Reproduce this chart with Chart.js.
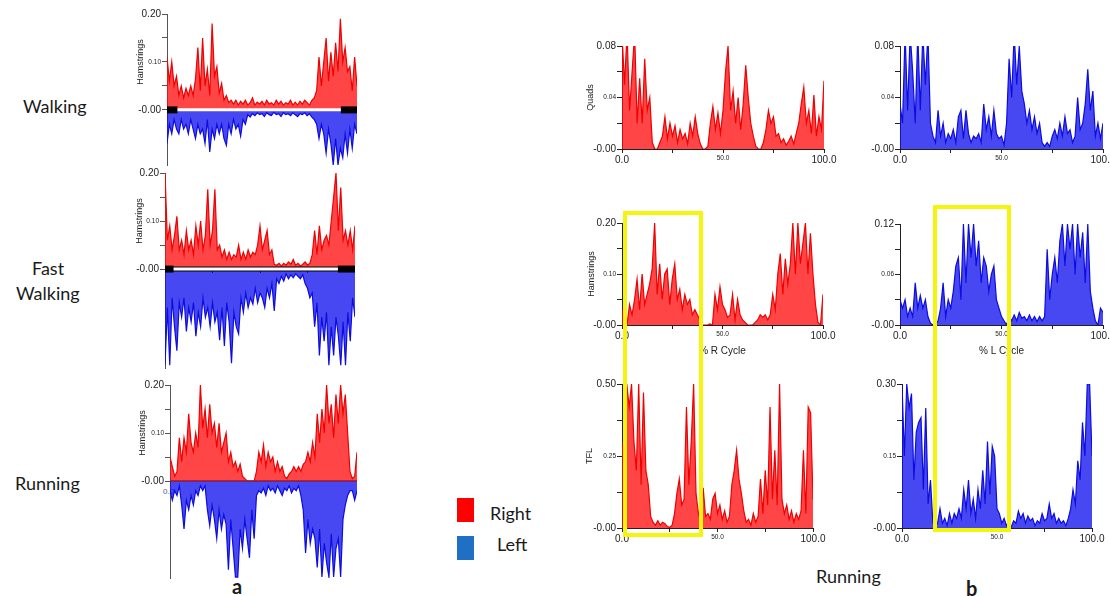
<!DOCTYPE html>
<html>
<head>
<meta charset="utf-8">
<title>Hamstrings / Quads / TFL EMG, right vs left</title>
<script src="https://cdn.jsdelivr.net/npm/chart.js@4.4.1/dist/chart.umd.min.js"></script>
<style>
  html, body { margin: 0; padding: 0; background: #fff; }
  body { position: relative; width: 1110px; height: 596px; overflow: hidden; font-family: Lato, "Open Sans", sans-serif; color: #1a1a1a; }
  canvas { position: absolute; }
  .txt { position: absolute; font-size: 18px; line-height: 18px; white-space: nowrap; }
  .key { position: absolute; width: 17px; height: 24px; }
  .win { position: absolute; border: 4px solid #f4f40c; box-sizing: border-box; }
  .tag { position: absolute; font-size: 20px; line-height: 20px; font-weight: bold; }
  .zero { position: absolute; font: 8px "Liberation Sans", sans-serif; color: #4a5aa8; }
</style>
</head>
<body>
<div class="txt" style="left:23px;top:97px">Walking</div>
<div class="txt" style="left:32px;top:259px">Fast</div>
<div class="txt" style="left:16px;top:284px">Walking</div>
<div class="txt" style="left:15px;top:474px">Running</div>

<div class="key" style="left:457px;top:498px;background:#ff0000"></div>
<div class="txt" style="left:490px;top:504px">Right</div>
<div class="key" style="left:457px;top:536px;background:#1f6fc5"></div>
<div class="txt" style="left:497px;top:535px">Left</div>

<div class="txt" style="left:816px;top:567px">Running</div>
<div class="tag" style="left:232px;top:576px">a</div>
<div class="tag" style="left:966px;top:578px">b</div>
<div class="zero" style="left:163px;top:487px">0.0</div>

<script>
// ── Data: EMG envelopes, 81 samples over 0–100 % of the cycle ──

// panel a, Hamstrings (right positive, left plotted negative)
const walkRight = [0.11, 0.06, 0.10, 0.05, 0.07, 0.03, 0.05, 0.025, 0.045, 0.03,
    0.05, 0.03, 0.065, 0.13, 0.04, 0.15, 0.05, 0.085, 0.03, 0.18,
    0.07, 0.09, 0.035, 0.055, 0.02, 0.03, 0.015, 0.02, 0.012, 0.02,
    0.01, 0.018, 0.012, 0.02, 0.01, 0.015, 0.025, 0.01, 0.016, 0.012,
    0.018, 0.01, 0.02, 0.012, 0.015, 0.01, 0.02, 0.012, 0.018, 0.01,
    0.015, 0.012, 0.02, 0.01, 0.016, 0.01, 0.018, 0.012, 0.02, 0.015,
    0.01, 0.02, 0.025, 0.04, 0.11, 0.05, 0.10, 0.15, 0.06, 0.12,
    0.07, 0.14, 0.08, 0.19, 0.10, 0.13, 0.08, 0.09, 0.04, 0.11, 0.05];
const walkLeft = [-0.07, -0.03, -0.05, -0.02, -0.04, -0.05, -0.02, -0.04, -0.03, -0.05,
    -0.02, -0.04, -0.06, -0.03, -0.05, -0.04, -0.07, -0.02, -0.088, -0.04,
    -0.06, -0.03, -0.05, -0.03, -0.06, -0.074, -0.03, -0.05, -0.02, -0.04,
    -0.03, -0.055, -0.02, -0.03, -0.01, -0.015, -0.008, -0.012, -0.006, -0.01,
    -0.008, -0.014, -0.006, -0.01, -0.012, -0.005, -0.01, -0.008, -0.014, -0.006,
    -0.01, -0.008, -0.012, -0.006, -0.01, -0.014, -0.008, -0.01, -0.006, -0.012,
    -0.008, -0.015, -0.02, -0.03, -0.06, -0.03, -0.05, -0.09, -0.04, -0.07,
    -0.115, -0.06, -0.115, -0.08, -0.10, -0.05, -0.09, -0.04, -0.08, -0.03, -0.05];

const fastRight = [0.20, 0.06, 0.09, 0.04, 0.07, 0.11, 0.04, 0.06, 0.03, 0.08,
    0.04, 0.06, 0.03, 0.09, 0.05, 0.10, 0.04, 0.07, 0.166, 0.05,
    0.08, 0.166, 0.04, 0.05, 0.025, 0.04, 0.02, 0.035, 0.02, 0.03,
    0.025, 0.05, 0.02, 0.035, 0.02, 0.04, 0.025, 0.035, 0.03, 0.05,
    0.09, 0.04, 0.06, 0.08, 0.03, 0.04, 0.01, 0.008, 0.012, 0.006,
    0.012, 0.008, 0.015, 0.01, 0.02, 0.008, 0.012, 0.006, 0.01, 0.015,
    0.008, 0.012, 0.03, 0.08, 0.03, 0.09, 0.04, 0.06, 0.07, 0.05,
    0.10, 0.15, 0.20, 0.08, 0.17, 0.06, 0.08, 0.05, 0.08, 0.04, 0.09];
const fastLeft = [-0.20, -0.08, -0.20, -0.06, -0.12, -0.17, -0.07, -0.10, -0.06, -0.13,
    -0.08, -0.11, -0.07, -0.14, -0.09, -0.12, -0.06, -0.10, -0.08, -0.12,
    -0.07, -0.11, -0.09, -0.148, -0.08, -0.16, -0.07, -0.11, -0.196, -0.09,
    -0.12, -0.135, -0.06, -0.09, -0.05, -0.08, -0.06, -0.073, -0.04, -0.07,
    -0.05, -0.06, -0.08, -0.04, -0.06, -0.03, -0.087, -0.02, -0.03, -0.015,
    -0.025, -0.01, -0.02, -0.012, -0.018, -0.01, -0.015, -0.02, -0.012, -0.03,
    -0.04, -0.06, -0.05, -0.12, -0.07, -0.18, -0.10, -0.15, -0.09, -0.20,
    -0.12, -0.18, -0.10, -0.14, -0.20, -0.11, -0.20, -0.09, -0.15, -0.06, -0.10];

const runRight = [0.05, 0.03, 0.01, 0.02, 0.09, 0.04, 0.09, 0.06, 0.14, 0.08,
    0.06, 0.10, 0.07, 0.20, 0.11, 0.15, 0.09, 0.16, 0.10, 0.12,
    0.07, 0.12, 0.06, 0.08, 0.10, 0.04, 0.06, 0.03, 0.04, 0.02,
    0.035, 0.01, 0.005, 0, 0, 0, 0, 0.02, 0.06, 0.04,
    0.075, 0.03, 0.06, 0.04, 0.05, 0.02, 0.04, 0.02, 0.03, 0.01,
    0.005, 0.015, 0.02, 0.03, 0.02, 0.03, 0.02, 0.035, 0.04, 0.06,
    0.04, 0.08, 0.05, 0.14, 0.08, 0.15, 0.10, 0.20, 0.12, 0.16,
    0.09, 0.18, 0.12, 0.20, 0.14, 0.18, 0.10, 0.02, 0.005, 0.01, 0.06];
const runLeft = [-0.02, -0.04, -0.02, -0.03, -0.01, -0.05, -0.10, -0.04, -0.06, -0.03,
    -0.05, -0.02, -0.03, -0.01, -0.02, -0.01, -0.06, -0.093, -0.05, -0.08,
    -0.12, -0.06, -0.10, -0.07, -0.09, -0.185, -0.08, -0.14, -0.20, -0.20,
    -0.10, -0.14, -0.08, -0.12, -0.16, -0.06, -0.12, -0.03, -0.02, -0.025,
    -0.015, -0.03, -0.01, -0.02, -0.015, -0.025, -0.01, -0.02, -0.03, -0.015,
    -0.02, -0.01, -0.025, -0.015, -0.02, -0.01, -0.03, -0.06, -0.15, -0.08,
    -0.13, -0.10, -0.12, -0.18, -0.10, -0.20, -0.13, -0.17, -0.20, -0.11,
    -0.20, -0.14, -0.12, -0.20, -0.08, -0.05, -0.03, -0.02, -0.02, -0.04, -0.02];

// panel b, running: right (red) and left (blue) muscles
const quadsRight = [0.09, 0.05, 0.09, 0.03, 0.06, 0.09, 0.02, 0.055, 0.02, 0.07,
    0.03, 0.04, 0.005, 0, 0, 0.005, 0.01, 0.025, 0.008, 0.02,
    0.01, 0.018, 0.005, 0.015, 0.008, 0.012, 0.004, 0.02, 0.01, 0.025,
    0.012, 0.004, 0, 0, 0.002, 0.02, 0.033, 0.015, 0.028, 0.012,
    0.03, 0.06, 0.08, 0.03, 0.045, 0.02, 0.04, 0.015, 0.035, 0.065,
    0.04, 0.02, 0.01, 0.002, 0, 0, 0.005, 0.015, 0.03, 0.02,
    0.025, 0.01, 0.012, 0.005, 0.008, 0.003, 0.006, 0.01, 0.004, 0.012,
    0.02, 0.035, 0.048, 0.02, 0.03, 0.012, 0.042, 0.01, 0.025, 0.015, 0.053];
const quadsLeft = [0.035, 0.02, 0.09, 0.03, 0.09, 0.06, 0.02, 0.09, 0.03, 0.09,
    0.05, 0.09, 0.02, 0.01, 0.005, 0.03, 0.01, 0.02, 0.005, 0.012,
    0.008, 0.015, 0.005, 0.025, 0.03, 0.008, 0.03, 0.012, 0.005, 0.01,
    0.008, 0.012, 0.005, 0.035, 0.015, 0.025, 0.01, 0.03, 0.012, 0.008,
    0.01, 0.003, 0.02, 0.07, 0.04, 0.09, 0.05, 0.08, 0.045, 0.035,
    0.02, 0.03, 0.015, 0.025, 0.012, 0.02, 0.005, 0.002, 0.005, 0.002,
    0.01, 0.015, 0.008, 0.02, 0.01, 0.025, 0.012, 0.015, 0.005, 0.01,
    0.04, 0.015, 0.02, 0.035, 0.062, 0.03, 0.045, 0.01, 0.02, 0.008, 0.02];

const hamRight = [0.03, 0.005, 0, 0.04, 0.02, 0.05, 0.09, 0.03, 0.10, 0.04,
    0.06, 0.08, 0.11, 0.20, 0.06, 0.12, 0.05, 0.10, 0.11, 0.04,
    0.09, 0.12, 0.05, 0.07, 0.03, 0.06, 0.04, 0.05, 0.02, 0.03,
    0.02, 0.01, 0, 0, 0, 0.002, 0, 0.06, 0.03, 0.075,
    0.04, 0.03, 0.015, 0.02, 0.06, 0.01, 0.05, 0.02, 0.01, 0.005,
    0, 0, 0, 0.005, 0.01, 0.02, 0.015, 0.02, 0.01, 0.02,
    0.06, 0.03, 0.10, 0.14, 0.06, 0.13, 0.08, 0.12, 0.20, 0.10,
    0.20, 0.12, 0.16, 0.20, 0.10, 0.18, 0.10, 0.04, 0.005, 0, 0.06];
const hamLeft = [0.03, 0.02, 0.03, 0.01, 0.02, 0.01, 0.05, 0.02, 0.035, 0.02,
    0.03, 0.01, 0.002, 0, 0, 0.005, 0.02, 0.05, 0.01, 0.03,
    0.02, 0.04, 0.07, 0.08, 0.03, 0.12, 0.05, 0.12, 0.08, 0.12,
    0.07, 0.10, 0.05, 0.08, 0.07, 0.04, 0.06, 0.07, 0.03, 0.02,
    0.01, 0.005, 0, 0.01, 0.005, 0.012, 0.005, 0.015, 0.008, 0.01,
    0.005, 0.012, 0.005, 0.01, 0.004, 0.01, 0.005, 0.01, 0.09, 0.03,
    0.06, 0.08, 0.05, 0.10, 0.12, 0.07, 0.12, 0.09, 0.12, 0.06,
    0.12, 0.08, 0.11, 0.05, 0.12, 0.04, 0.02, 0.005, 0, 0.02, 0.015];

const tflRight = [0.30, 0.10, 0.50, 0.42, 0.50, 0.30, 0.20, 0.50, 0.15, 0.47,
    0.20, 0.15, 0.04, 0.02, 0.01, 0.025, 0.01, 0.02, 0.015, 0.005,
    0.002, 0.01, 0.05, 0.12, 0.17, 0.08, 0.10, 0.42, 0.15, 0.30,
    0.50, 0.12, 0.05, 0.02, 0.14, 0.04, 0.05, 0.03, 0.10, 0.12,
    0.05, 0.08, 0.03, 0.06, 0.02, 0.04, 0.15, 0.20, 0.27, 0.17,
    0.12, 0.06, 0.02, 0.03, 0.01, 0.05, 0.02, 0.04, 0.17, 0.05,
    0.20, 0.08, 0.42, 0.10, 0.27, 0.08, 0.50, 0.10, 0.05, 0.08,
    0.03, 0.06, 0.02, 0.05, 0.03, 0.06, 0.27, 0.05, 0.42, 0.40, 0.10];
const tflLeft = [0.30, 0.15, 0.30, 0.25, 0.28, 0.10, 0.20, 0.22, 0.23, 0.08,
    0.25, 0.05, 0.10, 0.01, 0.005, 0.01, 0.04, 0.01, 0.02, 0.005,
    0.03, 0.01, 0.03, 0.02, 0.04, 0.02, 0.08, 0.04, 0.10, 0.03,
    0.06, 0.02, 0.08, 0.04, 0.12, 0.05, 0.18, 0.07, 0.17, 0.15,
    0.04, 0.03, 0.01, 0.02, 0.005, 0.01, 0.002, 0.015, 0.01, 0.035,
    0.02, 0.03, 0.01, 0.025, 0.015, 0.02, 0.005, 0.015, 0.01, 0.03,
    0.015, 0.02, 0.05, 0.02, 0.03, 0.01, 0.02, 0.01, 0.015, 0.005,
    0.02, 0.04, 0.08, 0.05, 0.14, 0.10, 0.22, 0.15, 0.30, 0.30, 0.15];

// ── Ticks and labels ──
const hamTicks = [0, 0.05, 0.10, 0.15, 0.20];
const hamTickLabels = ['-0.00', '', '0.10', '', '0.20'];
const quadsTicks = [0, 0.02, 0.04, 0.06, 0.08];
const quadsTickLabels = ['-0.00', '', '0.04', '', '0.08'];
const hamLTicks = [0, 0.03, 0.06, 0.09, 0.12];
const hamLTickLabels = ['-0.00', '', '0.06', '', '0.12'];
const tflRTicks = [0, 0.125, 0.25, 0.375, 0.50];
const tflRTickLabels = ['-0.00', '', '0.25', '', '0.50'];
const tflLTicks = [0, 0.075, 0.15, 0.225, 0.30];
const tflLTickLabels = ['-0.00', '', '0.15', '', '0.30'];
const cycleTicks = [0, 25, 50, 75, 100];
const cycleLabels = ['0.0', '', '50.0', '', '100.0'];
const zeroMarks = [25, 50, 75];

// stance markers on the zero line (% cycle) and the highlighted windows
const walkBars = [[0, 5.5], [91.5, 100]];
const fastBars = [[0, 4.5], [91, 100]];
const rWindow = [0.5, 40.3];
const lWindow = [16.3, 54.7];

// ── Styling ──
const RED = '#f00000';
const RED_FILL = 'rgba(255, 10, 10, 0.76)';
const BLUE = '#0c0ce0';
const BLUE_FILL = 'rgba(15, 15, 238, 0.76)';
const INK = '#222';
const FONT = 'Liberation Sans';
const Y_W = 50;
const PAD_T = 10;
const PAD_R = 22;

// ── Title drawn beside the y axis, centred on a chosen value ──
const sideTitle = {
    id: 'sideTitle',
    afterDraw(chart, args, opts) {
        if (!opts.text) return;
        const { ctx, chartArea, scales } = chart;
        ctx.save();
        ctx.translate(chartArea.left - opts.offset, scales.y.getPixelForValue(opts.at));
        ctx.rotate(-Math.PI / 2);
        ctx.font = `9px "${FONT}"`;
        ctx.fillStyle = INK;
        ctx.textAlign = 'center';
        ctx.textBaseline = 'middle';
        ctx.fillText(opts.text, 0, 0);
        ctx.restore();
    },
};
Chart.register(sideTitle);

// ── Helpers ──
const toPoints = (vals) => vals.map((v, i) => ({ x: (i * 100) / (vals.length - 1), y: v }));
const tickFont = (ctx) => ({ family: FONT, size: ctx.index === 2 ? 6.5 : 10 });

function trace(vals, color, fill) {
    return { data: toPoints(vals), borderColor: color, backgroundColor: fill, borderWidth: 1.2, fill: 'origin', pointRadius: 0, tension: 0 };
}

function rule(from, to, color, width) {
    return { data: [{ x: from, y: 0 }, { x: to, y: 0 }], borderColor: color, borderWidth: width, borderCapStyle: 'butt', fill: false, pointRadius: 0 };
}

function yAxis(min, max, ticks, labels, color = INK) {
    return {
        type: 'linear',
        min,
        max,
        afterFit: (s) => { s.width = Y_W; },
        afterBuildTicks: (s) => { s.ticks = ticks.map((value) => ({ value })); },
        grid: { drawOnChartArea: false, tickLength: 5, color },
        border: { color },
        ticks: { autoSkip: false, padding: 1, color: INK, callback: (v, i) => labels[i], font: tickFont },
    };
}

function cycleAxis(height, title) {
    return {
        type: 'linear',
        min: 0,
        max: 100,
        afterFit: (s) => { s.height = height; },
        afterBuildTicks: (s) => { s.ticks = cycleTicks.map((value) => ({ value })); },
        grid: { drawOnChartArea: false, tickLength: 4, color: INK },
        border: { color: INK },
        ticks: { autoSkip: false, maxRotation: 0, padding: 1, color: INK, callback: (v, i) => cycleLabels[i], font: tickFont },
        title: { display: !!title, text: title || '', color: INK, font: { family: FONT, size: 10 }, padding: 0 },
    };
}

const hiddenX = { type: 'linear', min: 0, max: 100, display: false };

function emgChart(id, g, { datasets, y, x = hiddenX, xHeight = 0, title }) {
    const bottom = xHeight || 8;
    const w = g.r - g.l + Y_W + PAD_R;
    const h = g.b - g.t + PAD_T + bottom;
    const canvas = document.createElement('canvas');
    canvas.id = id;
    canvas.width = w;
    canvas.height = h;
    Object.assign(canvas.style, { left: `${g.l - Y_W}px`, top: `${g.t - PAD_T}px`, width: `${w}px`, height: `${h}px` });
    document.body.appendChild(canvas);

    return new Chart(canvas, {
        type: 'line',
        data: { datasets },
        options: {
            responsive: false,
            animation: false,
            devicePixelRatio: 1,
            events: [],
            layout: { padding: { top: PAD_T, right: PAD_R, left: 0, bottom: xHeight ? 0 : bottom } },
            plugins: { legend: { display: false }, tooltip: { enabled: false }, sideTitle: title || {} },
            scales: { x, y },
        },
    });
}

// ── Panel a: Hamstrings, walking / fast walking / running ──
emgChart('walk', { l: 167, r: 357, t: 14, b: 165 }, {
    datasets: [
        rule(walkBars[0][0], walkBars[0][1], '#000', 7),
        rule(walkBars[1][0], walkBars[1][1], '#000', 7),
        rule(0, 100, '#fff', 3),
        trace(walkRight, RED, RED_FILL),
        trace(walkLeft, BLUE, BLUE_FILL),
    ],
    y: yAxis(-0.115, 0.2, hamTicks, hamTickLabels, '#555'),
    title: { text: 'Hamstrings', at: 0.1, offset: 26 },
});

emgChart('fast', { l: 165, r: 355, t: 173, b: 368 }, {
    datasets: [
        rule(fastBars[0][0], fastBars[0][1], '#000', 7),
        rule(fastBars[1][0], fastBars[1][1], '#000', 7),
        rule(0, 100, '#fff', 3),
        rule(0, 100, '#000', 5),
        trace(fastRight, RED, RED_FILL),
        trace(fastLeft, BLUE, BLUE_FILL),
    ],
    y: yAxis(-0.206, 0.2, hamTicks, hamTickLabels, '#555'),
    x: {
        type: 'linear',
        axis: 'x',
        min: 0,
        max: 100,
        position: { y: 0 },
        afterBuildTicks: (s) => { s.ticks = zeroMarks.map((value) => ({ value })); },
        grid: { drawOnChartArea: false, tickLength: 4, color: '#000' },
        border: { display: false },
        ticks: { display: false },
    },
    title: { text: 'Hamstrings', at: 0.1, offset: 25 },
});

emgChart('run', { l: 170, r: 357, t: 385, b: 578 }, {
    datasets: [
        rule(0, 100, '#8a1c3c', 1.5),
        trace(runRight, RED, RED_FILL),
        trace(runLeft, BLUE, BLUE_FILL),
    ],
    y: yAxis(-0.202, 0.2, hamTicks, hamTickLabels, '#555'),
    title: { text: 'Hamstrings', at: 0.1, offset: 27 },
});

// ── Panel b: running, right (red) vs left (blue) ──
emgChart('quadsR', { l: 622, r: 824, t: 46, b: 149 }, {
    datasets: [trace(quadsRight, RED, RED_FILL)],
    y: yAxis(0, 0.08, quadsTicks, quadsTickLabels),
    x: cycleAxis(22),
    xHeight: 22,
    title: { text: 'Quads', at: 0.04, offset: 31 },
});

emgChart('quadsL', { l: 900, r: 1103, t: 46, b: 149 }, {
    datasets: [trace(quadsLeft, BLUE, BLUE_FILL)],
    y: yAxis(0, 0.08, quadsTicks, quadsTickLabels),
    x: cycleAxis(22),
    xHeight: 22,
});

const hamR = emgChart('hamR', { l: 622, r: 823, t: 223, b: 325 }, {
    datasets: [trace(hamRight, RED, RED_FILL)],
    y: yAxis(0, 0.2, hamTicks, hamTickLabels),
    x: cycleAxis(32, '% R Cycle'),
    xHeight: 32,
    title: { text: 'Hamstrings', at: 0.1, offset: 30 },
});

const hamL = emgChart('hamL', { l: 900, r: 1103, t: 224, b: 325 }, {
    datasets: [trace(hamLeft, BLUE, BLUE_FILL)],
    y: yAxis(0, 0.12, hamLTicks, hamLTickLabels),
    x: cycleAxis(32, '% L Cycle'),
    xHeight: 32,
});

const tflR = emgChart('tflR', { l: 622, r: 813, t: 384, b: 528 }, {
    datasets: [trace(tflRight, RED, RED_FILL)],
    y: yAxis(0, 0.5, tflRTicks, tflRTickLabels),
    x: cycleAxis(22),
    xHeight: 22,
    title: { text: 'TFL', at: 0.25, offset: 32 },
});

const tflL = emgChart('tflL', { l: 902, r: 1092, t: 384, b: 528 }, {
    datasets: [trace(tflLeft, BLUE, BLUE_FILL)],
    y: yAxis(0, 0.3, tflLTicks, tflLTickLabels),
    x: cycleAxis(22),
    xHeight: 22,
});

// ── Yellow windows spanning the Hamstrings and TFL charts ──
function drawWindow(topChart, bottomChart, range, above, below) {
    const sx = topChart.scales.x;
    const left0 = parseFloat(topChart.canvas.style.left);
    const x1 = left0 + sx.getPixelForValue(range[0]);
    const x2 = left0 + sx.getPixelForValue(range[1]);
    const y1 = parseFloat(topChart.canvas.style.top) + topChart.chartArea.top - above;
    const y2 = parseFloat(bottomChart.canvas.style.top) + bottomChart.chartArea.bottom + below;
    const box = document.createElement('div');
    box.className = 'win';
    Object.assign(box.style, { left: `${x1}px`, top: `${y1}px`, width: `${x2 - x1}px`, height: `${y2 - y1}px` });
    document.body.appendChild(box);
}

drawWindow(hamR, tflR, rWindow, 12, 9);
drawWindow(hamL, tflL, lWindow, 19, 4);
</script>
</body>
</html>
